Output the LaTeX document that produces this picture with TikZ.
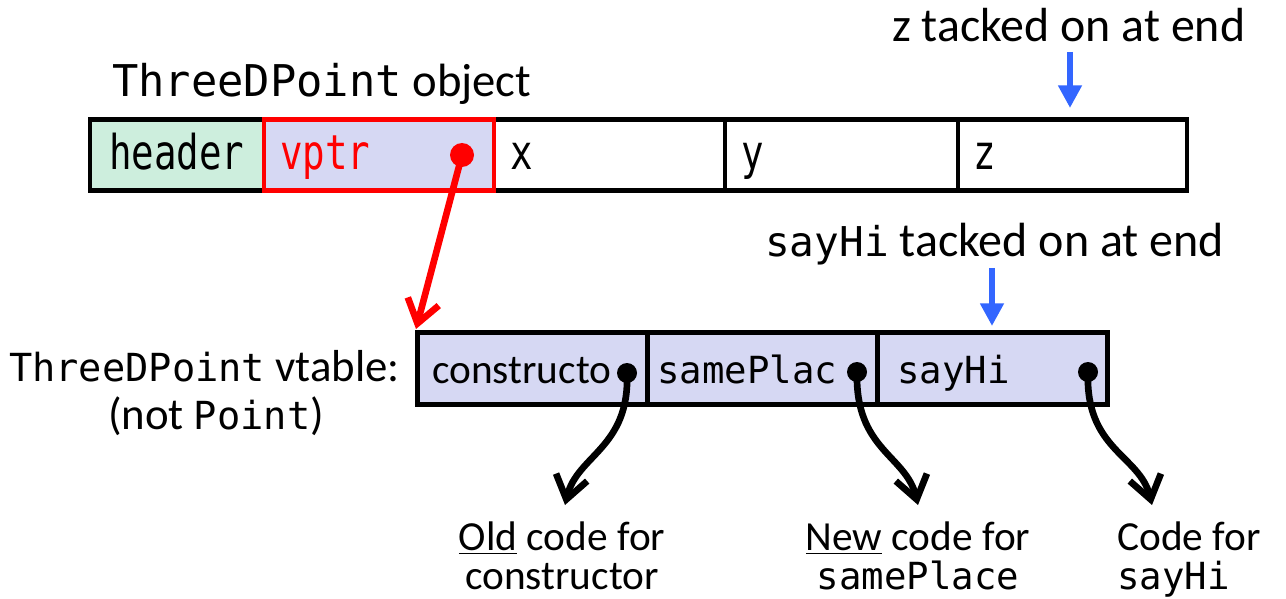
\documentclass[tikz,border=0pt]{standalone}
\usepackage{fontspec}
\setmainfont{Carlito}
\setmonofont{DejaVu Sans Mono}
\newfontfamily\cellfont{DejaVu Sans Mono}[FakeStretch=0.78]
\usetikzlibrary{arrows.meta}

\definecolor{hdrgreen}{RGB}{205,238,221}
\definecolor{slotblue}{RGB}{214,216,243}
\definecolor{tackblue}{RGB}{51,102,255}

\begin{document}
\begin{tikzpicture}[x=0.75pt,y=0.75pt,yscale=-1,xscale=1,
  box/.style={line width=3.5pt},
  ptr/.style={line width=5pt, line cap=round, -{Straight Barb[length=17pt,width=24pt]}},
  tack/.style={draw=tackblue, line width=4.5pt, -{Triangle[length=17pt,width=17pt]}},
  dot/.style={circle, inner sep=0pt, minimum size=#1},
  txt/.style={anchor=base west, inner sep=0pt},
  note/.style={inner sep=0pt, font=\fontsize{31}{29}\selectfont}]
\useasboundingbox (0,0) rectangle (1286,599);

%Object fields
\fill [hdrgreen] (90,119.5) rectangle (264,190.5);
\fill [slotblue] (264,119.5) rectangle (494,190.5);
\draw [box] (90,119.5) rectangle (1187,190.5);
\draw [box] (725,119.5) -- (725,190.5);
\draw [box] (958,119.5) -- (958,190.5);
\draw [box, red] (264,119.5) rectangle (494,190.5);

% Text Node
\node [txt] (objlbl) at (112,97) {\fontsize{35}{40}\selectfont{\fontsize{32.8}{40}\selectfont\ttfamily ThreeDPoint} object};
\node [txt] (zlbl) at (892,42) {\fontsize{35.9}{40}\selectfont z tacked on at end};
\node [txt] (hdrtxt) at (109,170) {\fontsize{36}{40}\selectfont\cellfont header};
\node [txt, red] (vptrtxt) at (280,170) {\fontsize{36}{40}\selectfont\cellfont vptr};
\node [txt] (xtxt) at (510,170) {\fontsize{36}{40}\selectfont\cellfont x};
\node [txt] (ytxt) at (741,170) {\fontsize{36}{40}\selectfont\cellfont y};
\node [txt] (ztxt) at (973,170) {\fontsize{36}{40}\selectfont\cellfont z};

%Vtable
\draw [box, fill=slotblue] (417.5,332.5) rectangle (1107.5,404.5);
\draw [box] (647.5,332.5) -- (647.5,404.5);
\draw [box] (877.5,332.5) -- (877.5,404.5);

% Text Node
\node [txt] (hilbl) at (765,257) {\fontsize{36}{40}\selectfont{\fontsize{30.8}{40}\selectfont\ttfamily sayHi} tacked on at end};
\node [anchor=base east, inner sep=0pt] (vtlbl) at (400,381) {\fontsize{33.6}{40}\selectfont{\fontsize{29}{40}\selectfont\ttfamily ThreeDPoint} vtable:};
\node [anchor=base, inner sep=0pt] (notlbl) at (216,429) {\fontsize{33.6}{40}\selectfont(not {\fontsize{29}{40}\selectfont\ttfamily Point})};
\node [txt] (ctortxt) at (432,383) {\fontsize{31}{36}\selectfont constructo};
\node [txt] (sptxt) at (657,383) {\fontsize{28}{36}\selectfont\ttfamily samePlac};
\node [txt] (hitxt) at (897,383) {\fontsize{28}{36}\selectfont\ttfamily sayHi};

% Text Node
\node [note, anchor=north, align=center] (oldlbl) at (562,522) {\underline{Old} code for\\constructor};
\node [note, anchor=north, align=center] (newlbl) at (918,522) {\underline{New} code for\\{\fontsize{28}{29}\selectfont\ttfamily samePlace}};
\node [note, anchor=north west, align=left] (codelbl) at (1117,522) {Code for\\{\fontsize{28}{29}\selectfont\ttfamily sayHi}};

%Pointers
\node [dot=18pt, fill=red] (vp) at (462,155) {};
\coordinate (vtop) at (416,329);
\draw [ptr, red] (vp.center) -- (vtop);

\node [dot=15pt, fill=black] (ctor) at (627,373) {};
\node [dot=15pt, fill=black] (same) at (857,372) {};
\node [dot=15pt, fill=black] (hi) at (1088,372) {};
\coordinate (oldcode) at (565,505);
\coordinate (newcode) at (918,505);
\coordinate (hicode) at (1152,505);
\draw [ptr] (ctor.center) .. controls +(3,75) and +(12,-50) .. (oldcode);
\draw [ptr] (same.center) .. controls +(-2,78) and +(-12,-50) .. (newcode);
\draw [ptr] (hi.center) .. controls +(-3,78) and +(-12,-50) .. (hicode);

%Tacked on markers
\coordinate (zfrom) at (1070,52);
\coordinate (zto) at (1070,108);
\draw [tack] (zfrom) -- (zto);
\coordinate (hifrom) at (992,268);
\coordinate (hito) at (992,326);
\draw [tack] (hifrom) -- (hito);
\end{tikzpicture}
\end{document}
